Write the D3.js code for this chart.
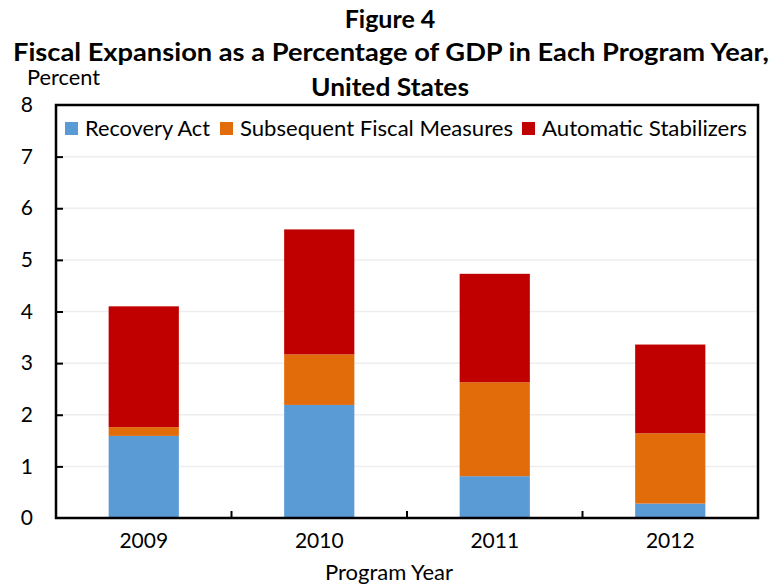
<!DOCTYPE html>
<html>
<head>
<meta charset="utf-8">
<script src="https://cdn.jsdelivr.net/npm/d3@7"></script>
<style>
  body { margin: 0; background: #fff; }
  text { font-family: Lato, "Open Sans", sans-serif; fill: #000; }
</style>
</head>
<body>
<div id="chart"></div>
<script>
// data
var years = ["2009", "2010", "2011", "2012"];
var seriesNames = ["Recovery Act", "Subsequent Fiscal Measures", "Automatic Stabilizers"];
var recoveryAct = [1.59, 2.19, 0.81, 0.28];
var subsequentMeasures = [0.17, 0.98, 1.82, 1.36];
var automaticStabilizers = [2.34, 2.42, 2.10, 1.72];
var yTicks = [0, 1, 2, 3, 4, 5, 6, 7, 8];
var colors = ["#5b9bd5", "#e36c0a", "#c00000"];

// chart dimensions
var width = 773, height = 585;
var margin = { top: 105, right: 15, bottom: 67, left: 56 };
var plotW = width - margin.left - margin.right;
var plotH = height - margin.top - margin.bottom;

var svg = d3.select("#chart").append("svg")
	.attr("width", width)
	.attr("height", height);

// titles
svg.append("text").attr("x", 390).attr("y", 28)
	.attr("text-anchor", "middle").attr("font-weight", "bold").attr("font-size", 25)
	.text("Figure 4");
svg.append("text").attr("x", 391).attr("y", 61)
	.attr("text-anchor", "middle").attr("font-weight", "bold").attr("font-size", 25)
	.attr("textLength", 756).attr("lengthAdjust", "spacingAndGlyphs")
	.text("Fiscal Expansion as a Percentage of GDP in Each Program Year,");
svg.append("text").attr("x", 390).attr("y", 96)
	.attr("text-anchor", "middle").attr("font-weight", "bold").attr("font-size", 25)
	.attr("textLength", 158).attr("lengthAdjust", "spacingAndGlyphs")
	.text("United States");
svg.append("text").attr("x", 27).attr("y", 85)
	.attr("font-size", 21)
	.attr("textLength", 73).attr("lengthAdjust", "spacingAndGlyphs")
	.text("Percent");

var chart = svg.append("g")
	.attr("transform", "translate(" + margin.left + "," + margin.top + ")");

var x = d3.scaleBand().domain(years).range([0, plotW]).paddingInner(0.6).paddingOuter(0.3);
var xBand = d3.scaleBand().domain(years).range([0, plotW]);
var y = d3.scaleLinear().domain([0, 8]).range([plotH, 0]);

// gridlines
chart.selectAll(".grid").data(yTicks.slice(1, -1)).enter().append("line")
	.attr("x1", 0).attr("x2", plotW)
	.attr("y1", function(d) { return y(d); }).attr("y2", function(d) { return y(d); })
	.attr("stroke", "#eeeeee").attr("stroke-width", 1.5);

// stack the data
var rows = years.map(function(yr, i) {
	return { year: yr, a: recoveryAct[i], b: subsequentMeasures[i], c: automaticStabilizers[i] };
});
var stack = d3.stack().keys(["a", "b", "c"])(rows);

chart.selectAll(".layer").data(stack).enter().append("g")
	.attr("fill", function(d, i) { return colors[i]; })
  .selectAll("rect").data(function(d) { return d; }).enter().append("rect")
	.attr("x", function(d) { return x(d.data.year); })
	.attr("width", x.bandwidth())
	.attr("y", function(d) { return y(d[1]); })
	.attr("height", function(d) { return y(d[0]) - y(d[1]); });

// frame
chart.append("rect")
	.attr("x", 0).attr("y", 0).attr("width", plotW).attr("height", plotH)
	.attr("fill", "none").attr("stroke", "#000").attr("stroke-width", 2.5);

// y axis
var yAxis = d3.axisLeft(y).tickValues(yTicks).tickSize(-7).tickPadding(29).tickFormat(d3.format("d"));
var gy = chart.append("g").call(yAxis);
gy.select(".domain").remove();
gy.selectAll(".tick line").attr("stroke-width", 2);
gy.selectAll(".tick text").attr("font-size", 21).attr("text-anchor", "end").attr("dx", 6);
gy.selectAll(".tick").filter(function(d) { return d === 0 || d === 8; }).select("line").remove();

// x axis: ticks between categories
var xAxis = d3.axisBottom(xBand).tickSize(0).tickPadding(15);
var gx = chart.append("g").attr("transform", "translate(0," + plotH + ")").call(xAxis);
gx.select(".domain").remove();
gx.selectAll(".tick text").attr("font-size", 21);
chart.selectAll(".xtick").data(years.slice(1)).enter().append("line")
	.attr("x1", function(d) { return xBand(d); }).attr("x2", function(d) { return xBand(d); })
	.attr("y1", plotH).attr("y2", plotH - 7)
	.attr("stroke", "#000").attr("stroke-width", 2);

svg.append("text").attr("x", 389).attr("y", 580)
	.attr("text-anchor", "middle").attr("font-size", 21)
	.attr("textLength", 128).attr("lengthAdjust", "spacingAndGlyphs")
	.text("Program Year");

// legend
var legendX = [65, 220, 522];
var legendLen = [125, 273, 205];
var legend = svg.selectAll(".legend").data(seriesNames).enter().append("g")
	.attr("transform", function(d, i) { return "translate(" + legendX[i] + ",122)"; });
legend.append("rect").attr("width", 13).attr("height", 13)
	.attr("fill", function(d, i) { return colors[i]; });
legend.append("text").attr("x", 20).attr("y", 13.5)
	.attr("font-size", 21)
	.attr("textLength", function(d, i) { return legendLen[i]; })
	.attr("lengthAdjust", "spacingAndGlyphs")
	.text(function(d) { return d; });
</script>
</body>
</html>
